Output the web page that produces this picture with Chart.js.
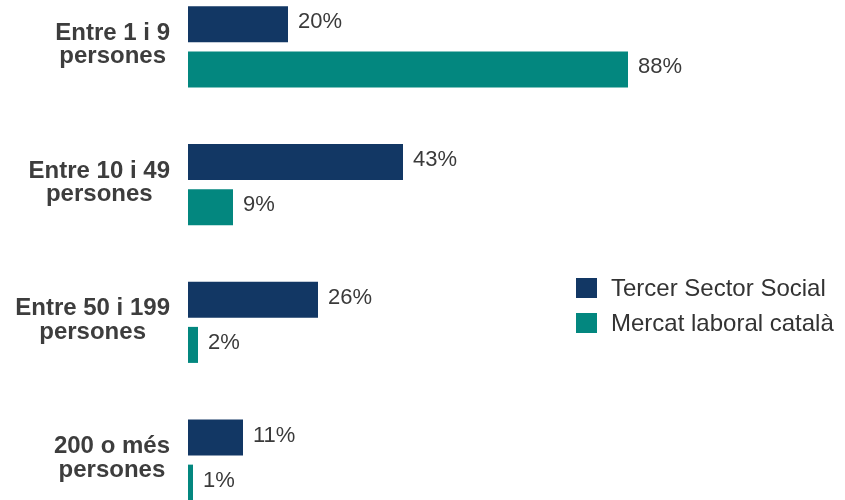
<!DOCTYPE html>
<html>
<head>
<meta charset="utf-8">
<script src="https://cdn.jsdelivr.net/npm/chart.js@4/dist/chart.umd.min.js"></script>
<style>
  html, body { margin: 0; padding: 0; background: #ffffff; overflow: hidden; }
  #wrap { position: absolute; left: 0; top: -22px; width: 845px; height: 551px; }
</style>
</head>
<body>
<div id="wrap"><canvas id="c"></canvas></div>
<script>
const categories = [
  ['Entre 1 i 9', 'persones'],
  ['Entre 10 i 49', 'persones'],
  ['Entre 50 i 199', 'persones'],
  ['200 o més', 'persones']
];
const seriesNames = ['Tercer Sector Social', 'Mercat laboral català'];
const tercerSector = [20, 43, 26, 11];
const mercatLaboral = [88, 9, 2, 1];
const seriesColors = ['#123764', '#03877f'];

// Category labels: each block right-aligned to the axis, lines centred within the block
const categoryLabels = {
  id: 'categoryLabels',
  afterDraw(chart, args, opts) {
    const ctx = chart.ctx;
    const scale = chart.scales.y;
    ctx.save();
    ctx.font = 'bold 24px "Liberation Sans", Arial, sans-serif';
    ctx.fillStyle = '#3d3d3d';
    ctx.textAlign = 'center';
    ctx.textBaseline = 'middle';
    chart.data.labels.forEach((lab, i) => {
      const lines = Array.isArray(lab) ? lab : [lab];
      const bw = Math.max(...lines.map(l => ctx.measureText(l).width));
      const cx = scale.right - opts.gap - bw / 2;
      const yc = scale.getPixelForTick(i) - 2;
      const y0 = yc - (lines.length - 1) * opts.lineHeight / 2;
      lines.forEach((l, k) => ctx.fillText(l, cx, y0 + k * opts.lineHeight));
    });
    ctx.restore();
  }
};

const valueLabels = {
  id: 'valueLabels',
  afterDatasetsDraw(chart) {
    const ctx = chart.ctx;
    ctx.save();
    ctx.font = '22px "Liberation Sans", Arial, sans-serif';
    ctx.fillStyle = '#3a3a3a';
    ctx.textAlign = 'left';
    ctx.textBaseline = 'middle';
    chart.data.datasets.forEach((ds, di) => {
      const meta = chart.getDatasetMeta(di);
      meta.data.forEach((bar, i) => {
        ctx.fillText(ds.data[i] + '%', bar.x + 10, bar.y - 2);
      });
    });
    ctx.restore();
  }
};

const customLegend = {
  id: 'customLegend',
  afterDraw(chart, args, opts) {
    const ctx = chart.ctx;
    ctx.save();
    ctx.font = '24px "Liberation Sans", Arial, sans-serif';
    ctx.textAlign = 'left';
    ctx.textBaseline = 'middle';
    chart.data.datasets.forEach((ds, i) => {
      const y = opts.y + i * opts.rowGap;
      ctx.fillStyle = ds.backgroundColor;
      ctx.fillRect(opts.x, y - 10, 21, 20);
      ctx.fillStyle = '#333333';
      ctx.fillText(ds.label, opts.x + 35, y + 1);
    });
    ctx.restore();
  }
};

new Chart(document.getElementById('c'), {
  type: 'bar',
  data: {
    labels: categories,
    datasets: [
      { label: seriesNames[0], data: tercerSector, backgroundColor: seriesColors[0] },
      { label: seriesNames[1], data: mercatLaboral, backgroundColor: seriesColors[1] }
    ]
  },
  options: {
    indexAxis: 'y',
    responsive: true,
    maintainAspectRatio: false,
    animation: false,
    categoryPercentage: 0.654,
    barPercentage: 0.8,
    layout: { padding: { left: 0, right: 157, top: 0, bottom: 0 } },
    scales: {
      x: { display: false, min: 0, max: 100 },
      y: {
        grid: { display: false, drawTicks: false },
        border: { display: false },
        ticks: { display: false },
        afterFit(scale) {
          scale.width = 188;
          scale.paddingTop = 0;
          scale.paddingBottom = 0;
        }
      }
    },
    plugins: {
      legend: { display: false },
      tooltip: { enabled: false },
      categoryLabels: { gap: 18, lineHeight: 23.5 },
      customLegend: { x: 576, y: 310, rowGap: 35 }
    }
  },
  plugins: [categoryLabels, valueLabels, customLegend]
});
</script>
</body>
</html>
